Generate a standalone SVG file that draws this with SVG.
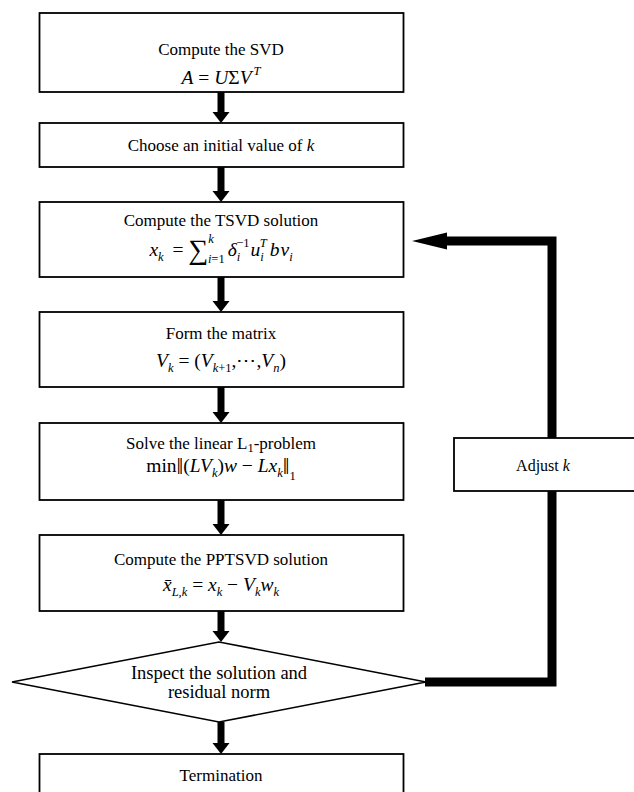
<svg xmlns="http://www.w3.org/2000/svg" width="634" height="792" viewBox="0 0 634 792">
<style>
  .box { fill: #fff; stroke: #000; stroke-width: 1.8; }
  .t { font-family: "Liberation Serif", "Times New Roman", serif; font-size: 17px; fill: #000; text-anchor: middle; }
  .f { font-size: 19.5px; }
  .i { font-style: italic; }
  .s { font-size: 12.5px; }
  .arrow { stroke: #000; stroke-width: 7; fill: none; }
  .loop { stroke: #000; stroke-width: 9; fill: none; stroke-linejoin: miter; }
</style>
<defs>
  <marker id="head" markerUnits="userSpaceOnUse" markerWidth="12" markerHeight="18" refX="0" refY="8.5" orient="auto" overflow="visible">
    <path d="M0,0 L11,8.5 L0,17 Z" fill="#000"/>
  </marker>
  <marker id="longhead" markerUnits="userSpaceOnUse" markerWidth="36" markerHeight="18" refX="0" refY="8.5" orient="auto" overflow="visible">
    <path d="M0,0 L35,8.5 L0,17 Z" fill="#000"/>
  </marker>
</defs>
<rect width="634" height="792" fill="#fff"/>

<g id="connectors">
  <line class="arrow" x1="221" y1="92" x2="221" y2="112" marker-end="url(#head)"/>
  <line class="arrow" x1="221" y1="167" x2="221" y2="191" marker-end="url(#head)"/>
  <line class="arrow" x1="221" y1="277" x2="221" y2="301" marker-end="url(#head)"/>
  <line class="arrow" x1="221" y1="387" x2="221" y2="412" marker-end="url(#head)"/>
  <line class="arrow" x1="221" y1="500" x2="221" y2="524" marker-end="url(#head)"/>
  <line class="arrow" x1="221" y1="611" x2="221" y2="631" marker-end="url(#head)"/>
  <line class="arrow" x1="221" y1="722" x2="221" y2="743" marker-end="url(#head)"/>
  <polyline class="loop" points="425,682 552,682 552,241 447,241" marker-end="url(#longhead)"/>
</g>

<g id="n1">
  <rect class="box" x="39.5" y="13" width="364" height="79"/>
  <text class="t" x="221" y="55">Compute the SVD</text>
  <text class="t f" x="221" y="84"><tspan class="i">A</tspan> = <tspan class="i">U</tspan>Σ<tspan class="i">V</tspan><tspan class="i s" dx="2" dy="-9">T</tspan></text>
</g>

<g id="n2">
  <rect class="box" x="39.5" y="123" width="364" height="44"/>
  <text class="t" x="221" y="151">Choose an initial value of <tspan class="i">k</tspan></text>
</g>

<g id="n3">
  <rect class="box" x="39.5" y="202" width="364" height="75"/>
  <text class="t" x="221" y="226">Compute the TSVD solution</text>
  <text class="t f" x="221" y="256"><tspan class="i">x</tspan><tspan class="i s" dy="5">k</tspan><tspan dx="4" dy="-5"> = </tspan><tspan font-size="28" dy="3">∑</tspan><tspan class="i s" dy="-16">k</tspan><tspan class="s" dx="-6" dy="20"><tspan class="i">i</tspan>=1</tspan><tspan class="i" dx="3" dy="-7">δ</tspan><tspan class="i s" dy="5">i</tspan><tspan class="s" dx="-4" dy="-14">−1</tspan><tspan class="i" dx="1" dy="9">u</tspan><tspan class="i s" dy="5">i</tspan><tspan class="i s" dx="-4" dy="-14">T</tspan><tspan class="i" dx="3" dy="9">b</tspan><tspan class="i" dx="1">v</tspan><tspan class="i s" dy="5">i</tspan></text>
</g>

<g id="n4">
  <rect class="box" x="39.5" y="312" width="364" height="75"/>
  <text class="t" x="221" y="339">Form the matrix</text>
  <text class="t f" x="221" y="367"><tspan class="i">V</tspan><tspan class="i s" dy="5">k</tspan><tspan dy="-5"> = (</tspan><tspan class="i">V</tspan><tspan class="s" dy="5"><tspan class="i">k</tspan>+1</tspan><tspan dy="-5">,⋯,</tspan><tspan class="i">V</tspan><tspan class="i s" dy="5">n</tspan><tspan dy="-5">)</tspan></text>
</g>

<g id="n5">
  <rect class="box" x="39.5" y="423" width="364" height="77"/>
  <text class="t" x="221" y="449">Solve the linear L<tspan class="s" dy="3">1</tspan><tspan dy="-3">-problem</tspan></text>
  <text class="t f" x="221" y="472">min<tspan font-size="24" dy="2">‖</tspan><tspan dy="-2">(</tspan><tspan class="i">LV</tspan><tspan class="i s" dy="5">k</tspan><tspan dy="-5">)</tspan><tspan class="i">w</tspan> − <tspan class="i">Lx</tspan><tspan class="i s" dy="5">k</tspan><tspan font-size="24" dy="-3">‖</tspan><tspan class="s" dy="6">1</tspan></text>
</g>

<g id="n6">
  <rect class="box" x="39.5" y="535" width="364" height="76"/>
  <text class="t" x="221" y="565">Compute the PPTSVD solution</text>
  <text class="t f" x="221" y="591"><tspan class="i">x̄</tspan><tspan class="i s" dy="5">L,k</tspan><tspan dy="-5"> = </tspan><tspan class="i">x</tspan><tspan class="i s" dy="5">k</tspan><tspan dy="-5"> − </tspan><tspan class="i">V</tspan><tspan class="i s" dy="5">k</tspan><tspan class="i" dy="-5">w</tspan><tspan class="i s" dy="5">k</tspan></text>
</g>

<g id="n7">
  <polygon class="box" points="12,682 219,642 426,682 219,722" style="stroke-width:1.6"/>
  <text class="t" x="219" y="679" style="font-size:18.5px">Inspect the solution and</text>
  <text class="t" x="219" y="698" style="font-size:18.5px">residual norm</text>
</g>

<g id="n8">
  <rect class="box" x="39.5" y="754" width="364" height="50"/>
  <text class="t" x="221" y="781">Termination</text>
</g>

<g id="n9">
  <rect class="box" x="454" y="438" width="190" height="53"/>
  <text class="t" x="543" y="471" style="font-size:16px">Adjust <tspan class="i">k</tspan></text>
</g>
</svg>
